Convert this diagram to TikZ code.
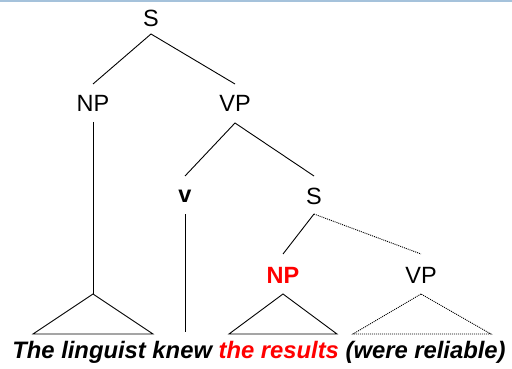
\documentclass[tikz,border=0pt]{standalone}
\usepackage{fontspec}
\setmainfont{Liberation Sans}
\begin{document}
\begin{tikzpicture}[x=1pt,y=-1pt,
  lab/.style={font=\fontsize{23.5}{26}\selectfont, inner sep=0pt, anchor=center},
  edge/.style={line width=0.9pt},
  dotedge/.style={line width=0.9pt, dash pattern=on 1pt off 1pt},
  every node/.style={lab}]
\useasboundingbox (0,0) rectangle (512,369);
\fill[fill={rgb,255:red,165;green,194;blue,219}] (0,0) rectangle (512,2.5);
% labels
\node (S) at (151,18) {S};
\node (NP) at (93,103) {NP};
\node (VP) at (235,103) {VP};
\node (v) at (185,196) {\bfseries v};
\node (S2) at (314,196) {S};
\node (NP2) at (283,275) {\color{red}\bfseries NP};
\node (VP2) at (421,275) {VP};
% anchor coordinates
\coordinate (Sb) at (151,34);
\coordinate (NPt) at (93,84);
\coordinate (VPt) at (235,84);
\coordinate (NPb) at (93,122);
\coordinate (VPb) at (235,123);
\coordinate (vt) at (185,176);
\coordinate (S2t) at (314,176);
\coordinate (vb) at (185,214);
\coordinate (S2b) at (314,214);
\coordinate (NP2t) at (283,254);
\coordinate (VP2t) at (421,254);
% triangles
\coordinate (T1a) at (93,294);
\coordinate (T1l) at (33,334);
\coordinate (T1r) at (153,334);
\coordinate (T2a) at (283,294);
\coordinate (T2l) at (229,334);
\coordinate (T2r) at (337,334);
\coordinate (T3a) at (421,294);
\coordinate (T3l) at (353,334);
\coordinate (T3r) at (491,334);
\coordinate (vend) at (185,332);
% edges
\draw[edge] (NPt) -- (Sb) -- (VPt);
\draw[edge] (vt) -- (VPb) -- (S2t);
\draw[edge] (NPb) -- (T1a);
\draw[edge] (vb) -- (vend);
\draw[edge] (S2b) -- (NP2t);
\draw[dotedge] (S2b) -- (VP2t);
\draw[edge] (T1a) -- (T1l) -- (T1r) -- cycle;
\draw[edge] (T2a) -- (T2l) -- (T2r) -- cycle;
\draw[dotedge] (T3a) -- (T3l) -- (T3r) -- cycle;
% sentence
\node[font=\fontsize{23.8}{26}\selectfont] (sent) at (259,352) {\bfseries\itshape The linguist knew \textcolor{red}{the results} (were reliable)};
\end{tikzpicture}
\end{document}
